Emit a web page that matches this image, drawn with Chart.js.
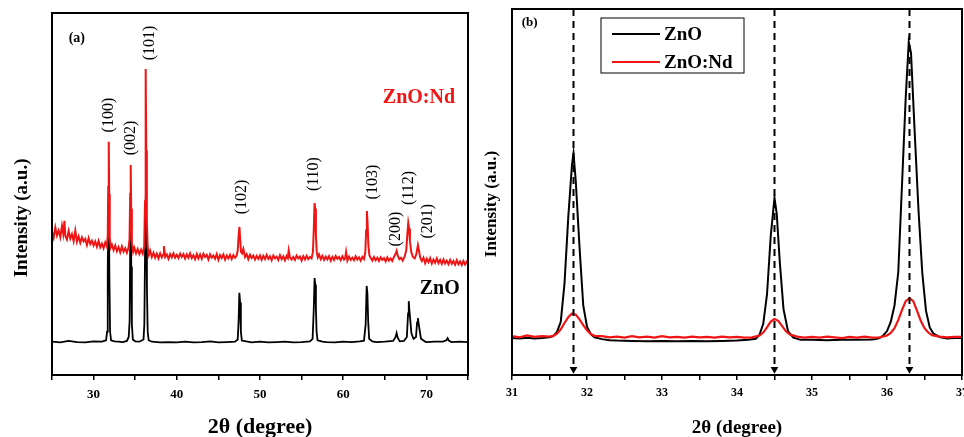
<!DOCTYPE html>
<html>
<head>
<meta charset="utf-8">
<script src="https://cdn.jsdelivr.net/npm/chart.js@4.4.1/dist/chart.umd.min.js"></script>
<style>
  html, body { margin: 0; padding: 0; background: #fff; overflow: hidden; }
  body { width: 964px; height: 437px; position: relative; }
  canvas { position: absolute; top: 0; }
  #chartA { left: 0; width: 480px; height: 437px; }
  #chartB { left: 480px; width: 500px; height: 437px; }
</style>
</head>
<body>
<canvas id="chartA" width="480" height="437"></canvas>
<canvas id="chartB" width="500" height="437"></canvas>
<script>
// ---------- panel (a): full scans, [2theta (deg), intensity (a.u.)] ----------
const znoScan = [
  [25.0, 9.2], [26.0, 9.0], [27.0, 9.4], [28.0, 9.1], [29.0, 9.0], [30.0, 9.3],
  [31.0, 9.2], [31.5, 9.6], [31.62, 12.0], [31.7, 28.0], [31.77, 47.5], [31.84, 44.0],
  [31.9, 27.0], [31.98, 12.0], [32.1, 9.6], [32.5, 9.3], [33.0, 9.2], [33.5, 9.1],
  [34.0, 9.4], [34.22, 10.5], [34.33, 15.0], [34.41, 38.0], [34.46, 42.8], [34.53, 30.0],
  [34.6, 14.0], [34.72, 9.8], [35.0, 9.3], [35.5, 9.2], [36.0, 9.8], [36.1, 14.0],
  [36.19, 35.0], [36.27, 49.2], [36.34, 40.0], [36.41, 24.0], [36.5, 12.0], [36.62, 9.6],
  [37.0, 9.2], [38.0, 9.0], [39.0, 9.1], [40.0, 9.0], [41.0, 9.2], [42.0, 9.0],
  [43.0, 9.1], [44.0, 9.3], [45.0, 9.0], [46.0, 9.1], [47.0, 9.2], [47.32, 9.8],
  [47.43, 15.0], [47.52, 22.7], [47.61, 20.0], [47.7, 12.0], [47.82, 9.5], [48.5, 9.2],
  [49.0, 9.0], [50.0, 9.2], [51.0, 9.0], [52.0, 9.1], [53.0, 9.2], [54.0, 9.0],
  [55.0, 9.1], [56.0, 9.3], [56.32, 10.0], [56.46, 18.0], [56.56, 26.8], [56.64, 25.0],
  [56.72, 18.5], [56.8, 12.0], [56.92, 9.6], [57.5, 9.2], [58.0, 9.1], [59.0, 9.0],
  [60.0, 9.2], [61.0, 9.1], [62.0, 9.3], [62.5, 9.5], [62.7, 14.0], [62.82, 24.6],
  [62.91, 22.5], [63.0, 15.0], [63.12, 10.0], [63.5, 9.3], [64.0, 9.1], [65.0, 9.2],
  [66.0, 9.4], [66.3, 10.5], [66.42, 11.6], [66.55, 10.3], [66.8, 9.3], [67.3, 9.4],
  [67.65, 10.5], [67.8, 17.0], [67.88, 20.4], [67.95, 18.0], [68.05, 15.5], [68.2, 11.5],
  [68.45, 10.0], [68.75, 10.5], [68.88, 14.5], [68.98, 15.7], [69.08, 14.0], [69.18, 12.5],
  [69.35, 10.0], [69.8, 9.3], [70.0, 9.1], [71.0, 9.2], [72.0, 9.2], [72.4, 9.6],
  [72.55, 10.2], [72.7, 9.5], [73.0, 9.1], [74.0, 9.2], [75.0, 9.1],
];

const znoNdScan = [
  [25.0, 39.6], [25.2, 37.9], [25.4, 40.8], [25.6, 38.5], [25.8, 39.9], [26.0, 38.1],
  [26.2, 41.2], [26.35, 39.0], [26.5, 42.6], [26.6, 38.4], [26.8, 37.4], [27.0, 39.8],
  [27.2, 37.7], [27.4, 38.9], [27.6, 37.0], [27.8, 39.9], [28.0, 36.8], [28.2, 38.3],
  [28.4, 36.5], [28.6, 38.0], [28.8, 36.9], [29.0, 37.6], [29.2, 35.9], [29.4, 37.8],
  [29.6, 36.2], [29.8, 37.1], [30.0, 35.8], [30.2, 36.9], [30.4, 35.4], [30.6, 37.0],
  [30.8, 35.3], [31.0, 36.3], [31.2, 35.0], [31.4, 36.6], [31.6, 35.4], [31.7, 38.5],
  [31.76, 52.0], [31.82, 64.4], [31.88, 50.0], [31.94, 38.0], [32.05, 35.2], [32.2, 36.0],
  [32.4, 34.5], [32.6, 35.8], [32.8, 34.2], [33.0, 35.3], [33.2, 33.9], [33.4, 35.5],
  [33.6, 34.1], [33.8, 35.0], [34.0, 33.8], [34.2, 35.2], [34.32, 37.5], [34.4, 50.0],
  [34.46, 58.0], [34.52, 46.0], [34.6, 36.5], [34.75, 34.0], [34.9, 35.1], [35.1, 33.6],
  [35.3, 34.8], [35.5, 33.4], [35.7, 34.6], [35.9, 33.5], [36.08, 35.5], [36.18, 48.0],
  [36.26, 84.5], [36.33, 62.0], [36.4, 42.0], [36.5, 35.5], [36.65, 33.2], [36.8, 34.3],
  [37.0, 32.6], [37.2, 33.8], [37.4, 32.4], [37.6, 33.5], [37.8, 32.2], [38.0, 33.6],
  [38.2, 32.5], [38.35, 33.2], [38.45, 35.6], [38.6, 32.6], [38.8, 33.3], [39.0, 32.1],
  [39.2, 33.4], [39.4, 32.5], [39.6, 33.6], [39.8, 32.4], [40.0, 33.2], [40.2, 32.3],
  [40.4, 33.5], [40.6, 32.6], [40.8, 33.4], [41.0, 32.2], [41.2, 33.3], [41.4, 32.4],
  [41.6, 33.6], [41.8, 32.3], [42.0, 33.1], [42.2, 32.0], [42.4, 33.4], [42.6, 32.2],
  [42.8, 33.3], [43.0, 32.1], [43.2, 33.5], [43.4, 32.6], [43.6, 33.2], [43.8, 31.9],
  [44.0, 33.3], [44.2, 32.4], [44.4, 33.0], [44.6, 32.1], [44.8, 33.4], [45.0, 31.8],
  [45.2, 33.1], [45.4, 32.3], [45.6, 33.3], [45.8, 31.9], [46.0, 33.0], [46.2, 32.2],
  [46.4, 33.2], [46.6, 32.0], [46.8, 33.1], [47.0, 32.4], [47.2, 33.0], [47.33, 34.5],
  [47.43, 38.5], [47.53, 40.9], [47.62, 37.5], [47.72, 34.0], [47.85, 33.6], [48.0, 34.8],
  [48.2, 32.6], [48.4, 33.4], [48.6, 32.0], [48.8, 33.2], [49.0, 32.3], [49.2, 33.0],
  [49.4, 31.9], [49.6, 32.9], [49.8, 32.1], [50.0, 33.0], [50.2, 31.8], [50.4, 32.9],
  [50.6, 32.0], [50.8, 33.2], [51.0, 32.1], [51.2, 32.8], [51.4, 31.7], [51.6, 33.0],
  [51.8, 32.2], [52.0, 32.7], [52.2, 31.8], [52.4, 33.1], [52.6, 32.0], [52.8, 32.8],
  [53.0, 31.7], [53.2, 32.9], [53.35, 32.3], [53.45, 34.4], [53.6, 32.5], [53.8, 31.9],
  [54.0, 32.6], [54.2, 31.8], [54.4, 33.0], [54.6, 32.2], [54.8, 32.7], [55.0, 31.6],
  [55.2, 32.8], [55.4, 31.9], [55.6, 32.9], [55.8, 32.0], [56.0, 32.6], [56.2, 32.2],
  [56.36, 34.0], [56.46, 40.0], [56.56, 47.5], [56.63, 46.0], [56.72, 38.5], [56.82, 34.0],
  [56.95, 32.5], [57.1, 33.3], [57.3, 32.0], [57.5, 32.9], [57.7, 31.8], [57.9, 32.7],
  [58.1, 31.9], [58.3, 32.8], [58.5, 31.6], [58.7, 32.6], [58.9, 31.8], [59.1, 32.9],
  [59.3, 32.1], [59.5, 32.6], [59.7, 31.7], [59.9, 32.8], [60.1, 31.9], [60.25, 32.4],
  [60.35, 34.0], [60.5, 31.6], [60.7, 32.7], [60.9, 31.8], [61.1, 32.4], [61.3, 31.7],
  [61.5, 32.8], [61.7, 31.9], [61.9, 32.5], [62.1, 31.6], [62.3, 32.6], [62.5, 32.0],
  [62.66, 34.0], [62.76, 40.0], [62.85, 45.3], [62.93, 42.0], [63.02, 36.0], [63.15, 33.0],
  [63.3, 32.4], [63.5, 31.6], [63.7, 32.6], [63.9, 31.7], [64.1, 32.4], [64.3, 31.5],
  [64.5, 32.5], [64.7, 31.8], [64.9, 32.3], [65.1, 31.4], [65.3, 32.5], [65.5, 31.6],
  [65.7, 32.2], [65.9, 31.5], [66.1, 32.6], [66.3, 33.5], [66.42, 34.3], [66.55, 33.0],
  [66.75, 32.0], [66.95, 32.4], [67.15, 31.6], [67.4, 32.8], [67.58, 34.5], [67.7, 38.5],
  [67.82, 42.0], [67.92, 40.5], [68.02, 37.0], [68.18, 34.0], [68.38, 32.6], [68.6, 32.2],
  [68.8, 33.5], [68.98, 35.9], [69.1, 34.5], [69.25, 32.5], [69.45, 31.5], [69.65, 32.4],
  [69.85, 30.9], [70.05, 32.1], [70.25, 31.2], [70.45, 32.3], [70.65, 30.8], [70.85, 31.9],
  [71.05, 31.0], [71.25, 32.2], [71.45, 30.9], [71.65, 31.8], [71.85, 30.7], [72.05, 31.9],
  [72.25, 30.8], [72.45, 31.6], [72.65, 30.6], [72.85, 31.8], [73.05, 30.7], [73.25, 31.5],
  [73.45, 30.5], [73.65, 31.7], [73.85, 30.6], [74.05, 31.4], [74.25, 30.4], [74.45, 31.5],
  [74.65, 30.5], [74.85, 31.3], [75.0, 30.8],
];

// hkl labels of panel (a) and where they sit (2theta, intensity)
const hklNames = ["(100)", "(002)", "(101)", "(102)", "(110)", "(103)", "(200)", "(112)", "(201)"];
const hklTheta = [31.84, 34.48, 36.76, 47.8, 56.44, 63.52, 66.28, 67.84, 70.12];
const hklLevel = [71.8, 65.5, 91.7, 49.2, 55.5, 53.3, 40.3, 51.7, 42.5];

const ticksA = [30, 40, 50, 60, 70];

// ---------- panel (b): 31-37 deg zoom ----------
const znoZoom = [
  [31.0, 10.1], [31.1, 10.0], [31.2, 10.2], [31.3, 10.0], [31.4, 10.1], [31.5, 10.3],
  [31.55, 10.6], [31.6, 11.8], [31.65, 14.5], [31.7, 25.0], [31.75, 43.0], [31.8, 57.5],
  [31.82, 60.5], [31.85, 53.0], [31.9, 35.0], [31.95, 19.0], [32.0, 13.2], [32.05, 11.2],
  [32.1, 10.3], [32.2, 9.8], [32.3, 9.5], [32.4, 9.4], [32.6, 9.3], [32.8, 9.2],
  [33.0, 9.3], [33.2, 9.2], [33.4, 9.3], [33.6, 9.2], [33.8, 9.3], [34.0, 9.4],
  [34.15, 9.6], [34.25, 9.9], [34.3, 11.0], [34.35, 14.0], [34.4, 22.0], [34.45, 38.0],
  [34.5, 48.4], [34.53, 44.0], [34.57, 31.0], [34.62, 18.0], [34.68, 12.0], [34.75, 10.2],
  [34.85, 9.6], [35.0, 9.6], [35.2, 9.5], [35.4, 9.6], [35.6, 9.6], [35.8, 9.7],
  [35.85, 9.8], [35.9, 10.1], [35.95, 10.8], [36.0, 12.0], [36.05, 14.5], [36.1, 19.0],
  [36.15, 28.0], [36.2, 52.0], [36.25, 76.0], [36.29, 91.0], [36.32, 88.0], [36.37, 66.0],
  [36.42, 45.0], [36.47, 28.0], [36.52, 17.5], [36.57, 13.0], [36.62, 11.3], [36.7, 10.4],
  [36.8, 10.0], [36.9, 10.1], [37.0, 10.1],
];

const znoNdZoom = [
  [31.0, 10.6], [31.1, 10.3], [31.2, 10.8], [31.3, 10.4], [31.4, 10.6], [31.5, 10.5],
  [31.55, 10.7], [31.6, 11.3], [31.65, 12.5], [31.7, 14.2], [31.75, 15.8], [31.8, 16.8],
  [31.85, 16.5], [31.9, 15.2], [31.95, 13.6], [32.0, 12.2], [32.05, 11.2], [32.1, 10.7],
  [32.2, 10.6], [32.3, 10.3], [32.4, 10.5], [32.5, 10.2], [32.6, 10.6], [32.7, 10.3],
  [32.8, 10.5], [32.9, 10.2], [33.0, 10.6], [33.1, 10.3], [33.2, 10.4], [33.3, 10.2],
  [33.4, 10.5], [33.5, 10.3], [33.6, 10.4], [33.7, 10.2], [33.8, 10.5], [33.9, 10.3],
  [34.0, 10.4], [34.1, 10.2], [34.2, 10.3], [34.3, 10.8], [34.35, 11.6], [34.4, 13.0],
  [34.45, 14.6], [34.5, 15.3], [34.55, 14.8], [34.6, 13.4], [34.65, 12.0], [34.7, 11.1],
  [34.8, 10.5], [34.9, 10.2], [35.0, 10.4], [35.1, 10.2], [35.2, 10.5], [35.3, 10.3],
  [35.4, 10.1], [35.5, 10.4], [35.6, 10.2], [35.7, 10.5], [35.8, 10.2], [35.9, 10.3],
  [36.0, 10.8], [36.05, 11.5], [36.1, 12.8], [36.15, 15.0], [36.2, 17.8], [36.25, 20.2],
  [36.3, 21.0], [36.35, 20.2], [36.4, 17.6], [36.45, 14.8], [36.5, 12.8], [36.55, 11.6],
  [36.6, 10.9], [36.7, 10.5], [36.8, 10.3], [36.9, 10.4], [37.0, 10.4],
];

const peakCentres = [31.82, 34.5, 36.3];
const ticksB = [31, 32, 33, 34, 35, 36, 37];

const SERIF = "'Liberation Serif', 'Times New Roman', serif";
const RED = "#f01515";

const toPoints = (rows) => rows.map(([x, y]) => ({ x, y }));

/** Box around the plot area */
const framePlugin = {
  id: "frame",
  afterDatasetsDraw(chart) {
    const { ctx, chartArea: a } = chart;
    ctx.save();
    ctx.strokeStyle = "#000";
    ctx.lineWidth = 2;
    ctx.strokeRect(a.left, a.top, a.right - a.left, a.bottom - a.top);
    ctx.restore();
  },
};

/** Free text placed at data coordinates */
const notesPlugin = {
  id: "notes",
  afterDraw(chart, args, opts) {
    const { ctx, scales } = chart;
    (opts.items || []).forEach((n) => {
      ctx.save();
      ctx.translate(scales.x.getPixelForValue(n.x), scales.y.getPixelForValue(n.y));
      if (n.rotate) ctx.rotate(-Math.PI / 2);
      ctx.font = n.font;
      ctx.fillStyle = n.color || "#000";
      ctx.textAlign = n.align || "center";
      ctx.textBaseline = "middle";
      ctx.fillText(n.text, 0, 0);
      ctx.restore();
    });
  },
};

/** Boxed legend in panel (b), entries ordered by legendRank */
const boxLegendPlugin = {
  id: "boxLegend",
  afterDraw(chart, args, opts) {
    if (!opts.show) return;
    const { ctx, chartArea: a } = chart;
    const left = a.left + 89;
    const top = a.top + 9;
    ctx.save();
    ctx.strokeStyle = "#000";
    ctx.lineWidth = 1;
    ctx.strokeRect(left, top, 143, 55);
    const series = chart.data.datasets
      .filter((d) => d.legendRank !== undefined)
      .sort((p, q) => p.legendRank - q.legendRank);
    series.forEach((d, i) => {
      const y = top + 16 + i * 28;
      ctx.strokeStyle = d.borderColor;
      ctx.lineWidth = 2;
      ctx.beginPath();
      ctx.moveTo(left + 11, y);
      ctx.lineTo(left + 59, y);
      ctx.stroke();
      ctx.fillStyle = "#000";
      ctx.font = `bold 19px ${SERIF}`;
      ctx.textAlign = "left";
      ctx.textBaseline = "middle";
      ctx.fillText(d.label, left + 63, y + 1);
    });
    ctx.restore();
  },
};

function xAxis(min, max, step, labelled, titleSize, fontSize, pad) {
  return {
    type: "linear",
    min: min,
    max: max,
    afterFit: (s) => { s.height = 62; },
    border: { display: false },
    grid: {
      drawOnChartArea: false,
      drawTicks: true,
      tickLength: 5,
      color: "#000",
      lineWidth: 1.5,
    },
    ticks: {
      stepSize: step,
      autoSkip: false,
      maxRotation: 0,
      padding: pad,
      color: "#000",
      font: { family: SERIF, size: fontSize, weight: "bold" },
      callback: (v) => (labelled.includes(v) ? String(v) : ""),
    },
    title: {
      display: true,
      text: "2θ (degree)",
      color: "#000",
      font: { family: SERIF, size: titleSize, weight: "bold", lineHeight: 1 },
      padding: { top: 0, bottom: -1 },
    },
  };
}

function yAxis(width) {
  return {
    type: "linear",
    min: 0,
    max: 100,
    afterFit: (s) => { s.width = width; },
    border: { display: false },
    grid: { display: false },
    ticks: { display: false },
  };
}

function line(label, rows, color, width) {
  return {
    label: label,
    data: toPoints(rows),
    borderColor: color,
    borderWidth: width,
    pointRadius: 0,
    tension: 0,
    fill: false,
  };
}

// ---------- Panel (a) ----------
const hklNotes = hklNames.map((name, i) => ({
  text: name,
  x: hklTheta[i],
  y: hklLevel[i],
  rotate: true,
  font: `16px ${SERIF}`,
}));

new Chart(document.getElementById("chartA"), {
  type: "line",
  data: {
    datasets: [
      line("ZnO:Nd", znoNdScan, RED, 2),
      line("ZnO", znoScan, "#000", 1.8),
    ],
  },
  options: {
    responsive: false,
    animation: false,
    devicePixelRatio: 1,
    layout: { padding: { top: 13, right: 12, left: 0, bottom: 0 } },
    scales: {
      x: xAxis(25, 75, 5, ticksA, 22, 13, 7),
      y: yAxis(52),
    },
    plugins: {
      legend: { display: false },
      tooltip: { enabled: false },
      notes: {
        items: [
          { text: "Intensity (a.u.)", x: 21.4, y: 43.4, rotate: true, font: `bold 19px ${SERIF}` },
          { text: "(a)", x: 27.0, y: 93.1, align: "left", font: `bold 14px ${SERIF}` },
          { text: "ZnO:Nd", x: 69.1, y: 76.5, color: RED, font: `bold 20px ${SERIF}` },
          { text: "ZnO", x: 71.6, y: 23.8, font: `bold 20px ${SERIF}` },
          ...hklNotes,
        ],
      },
    },
  },
  plugins: [framePlugin, notesPlugin],
});

// ---------- Panel (b) ----------
const markerSets = peakCentres.map((c) => ({
  label: "marker",
  data: [{ x: c, y: 100 }, { x: c, y: 1.6 }],
  borderColor: "#000",
  borderWidth: 2,
  borderDash: [7, 5],
  pointRadius: [0, 4.5],
  pointStyle: "triangle",
  pointRotation: 180,
  pointBackgroundColor: "#000",
  pointBorderColor: "#000",
  pointBorderWidth: 0,
}));

new Chart(document.getElementById("chartB"), {
  type: "line",
  data: {
    datasets: [
      ...markerSets,
      { ...line("ZnO:Nd", znoNdZoom, RED, 2.2), legendRank: 2 },
      { ...line("ZnO", znoZoom, "#000", 2), legendRank: 1 },
    ],
  },
  options: {
    responsive: false,
    animation: false,
    devicePixelRatio: 1,
    layout: { padding: { top: 9, right: 18, left: 0, bottom: 0 } },
    scales: {
      x: xAxis(31, 37, 0.5, ticksB, 19, 12, 6),
      y: yAxis(32),
    },
    plugins: {
      legend: { display: false },
      tooltip: { enabled: false },
      notes: {
        items: [
          { text: "Intensity (a.u.)", x: 30.73, y: 46.7, rotate: true, font: `bold 17px ${SERIF}` },
          { text: "(b)", x: 31.13, y: 96.2, align: "left", font: `bold 13px ${SERIF}` },
        ],
      },
      boxLegend: { show: true },
    },
  },
  plugins: [framePlugin, notesPlugin, boxLegendPlugin],
});
</script>
</body>
</html>
